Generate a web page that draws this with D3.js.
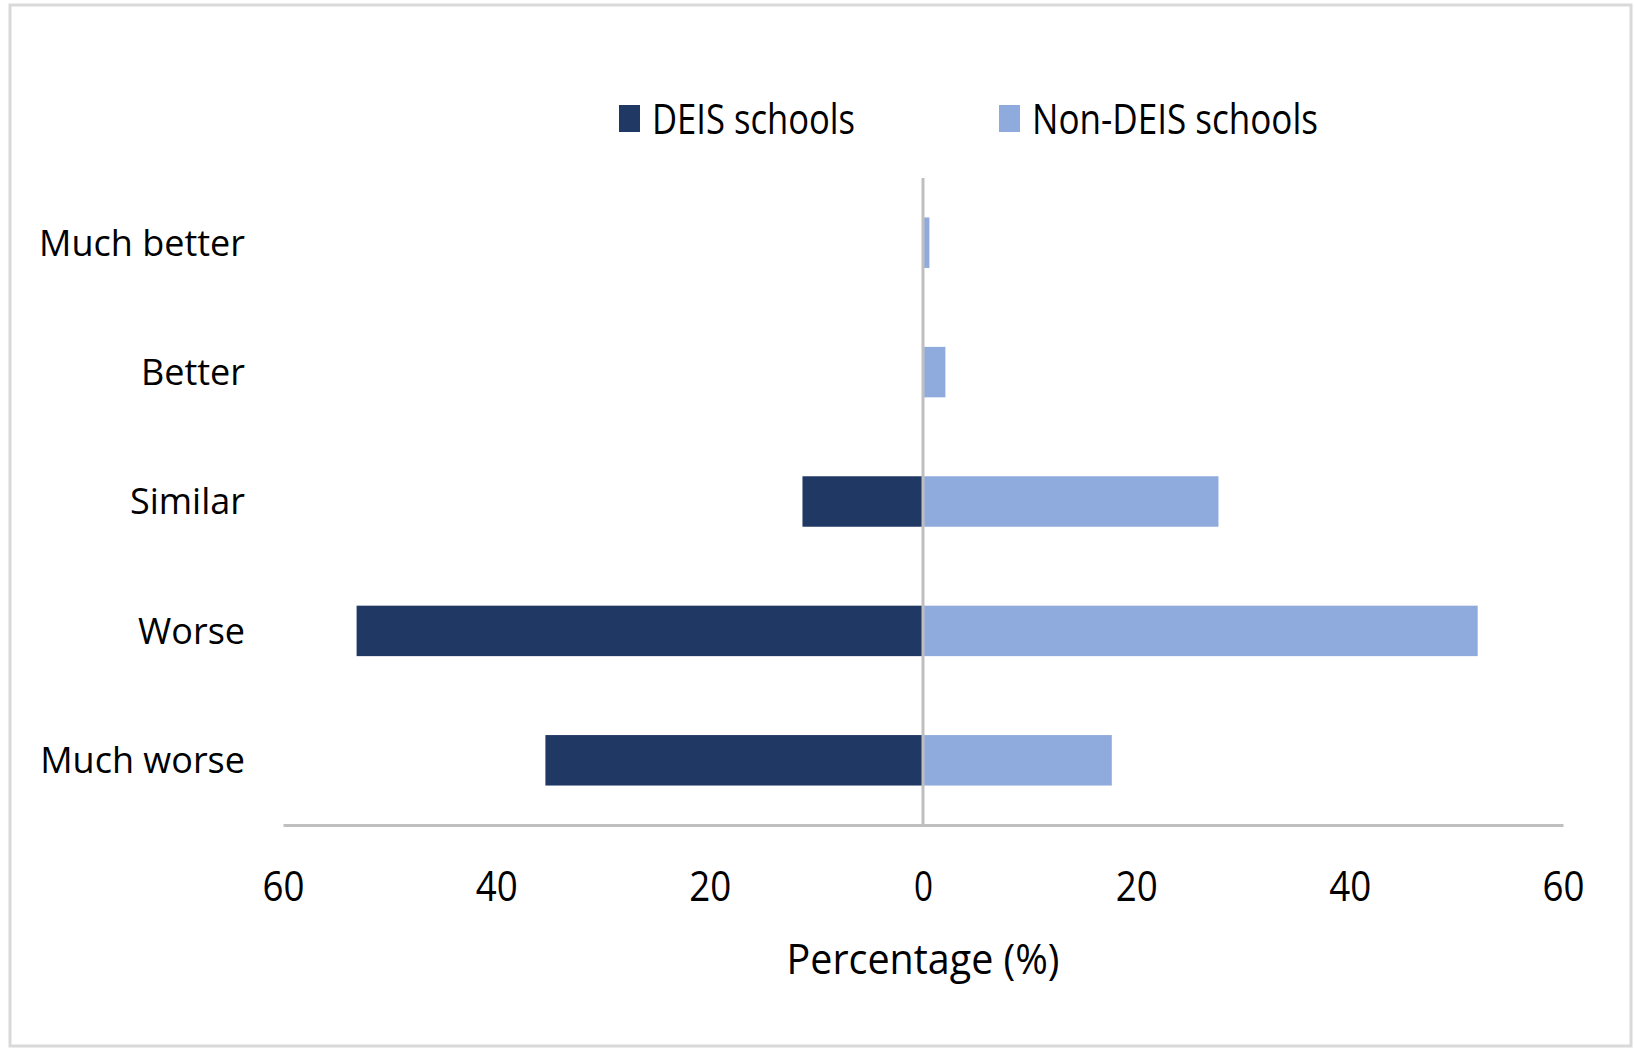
<!DOCTYPE html>
<html><head><meta charset="utf-8">
<script src="https://cdn.jsdelivr.net/npm/d3@7"></script>
<style>html,body{margin:0;padding:0;background:#fff}svg{display:block}text{font-family:"Open Sans",sans-serif;fill:#000}</style>
</head><body>
<script>
const categories = ["Much better", "Better", "Similar", "Worse", "Much worse"];
const deisValues = [0, 0, 11.3, 53.1, 35.4];
const nonDeisValues = [0.6, 2.1, 27.7, 52.0, 17.7];
const seriesNames = ["DEIS schools", "Non-DEIS schools"];
const seriesColors = ["#203864", "#8FAADC"];
const tickValues = [-60, -40, -20, 0, 20, 40, 60];

const W = 1634, H = 1049;
const svg = d3.select("body").append("svg").attr("width", W).attr("height", H);

svg.append("rect").attr("x", 10).attr("y", 5).attr("width", 1621).attr("height", 1041)
  .attr("fill", "#fff").attr("stroke", "#d9d9d9").attr("stroke-width", 3);

const x = d3.scaleLinear().domain([-60, 60]).range([283, 1563]);
const y = d3.scaleBand().domain(categories).range([178, 825]).paddingInner(0.61).paddingOuter(0.305);

// bars
svg.append("g").selectAll("rect").data(categories.map((c, i) => ({c, v: deisValues[i]})))
  .join("rect")
  .attr("x", d => x(-d.v)).attr("y", d => y(d.c))
  .attr("width", d => x(0) - x(-d.v)).attr("height", y.bandwidth())
  .attr("fill", seriesColors[0]);
svg.append("g").selectAll("rect").data(categories.map((c, i) => ({c, v: nonDeisValues[i]})))
  .join("rect")
  .attr("x", x(0)).attr("y", d => y(d.c))
  .attr("width", d => x(d.v) - x(0)).attr("height", y.bandwidth())
  .attr("fill", seriesColors[1]);

// zero line
svg.append("line").attr("x1", x(0)).attr("x2", x(0)).attr("y1", 178).attr("y2", 825)
  .attr("stroke", "#bfbfbf").attr("stroke-width", 3);

// x axis
const xAxis = d3.axisBottom(x).tickValues(tickValues).tickSize(0).tickFormat(d => Math.abs(d));
const gx = svg.append("g").attr("transform", "translate(0,825)").call(xAxis);
gx.select(".domain").attr("stroke", "#bfbfbf").attr("stroke-width", 3);
gx.selectAll(".tick text")
  .attr("y", 61).attr("dy", "0.36em")
  .style("font-size", "42px").style("font-family", "'Open Sans',sans-serif").attr("fill", "#000")
  .attr("textLength", d => d === 0 ? 19 : 42).attr("lengthAdjust", "spacingAndGlyphs");

// y labels
svg.append("g").selectAll("text").data(categories).join("text")
  .attr("x", 245).attr("y", d => y(d) + y.bandwidth() / 2).attr("dy", "0.36em")
  .attr("text-anchor", "end").style("font-size", "36px").text(d => d);

// axis title
svg.append("text").attr("x", 923).attr("y", 959).attr("dy", "0.36em").attr("text-anchor", "middle")
  .style("font-size", "42px").attr("textLength", 273).attr("lengthAdjust", "spacingAndGlyphs")
  .text("Percentage (%)");

// legend
const legendX = [619, 999];
const legendW = [203, 286];
const lg = svg.append("g").selectAll("g").data(seriesNames).join("g")
  .attr("transform", (d, i) => `translate(${legendX[i]},0)`);
lg.append("rect").attr("x", 0).attr("y", 105).attr("width", 21).attr("height", 27)
  .attr("fill", (d, i) => seriesColors[i]);
lg.append("text").attr("x", 33).attr("y", 119).attr("dy", "0.36em")
  .style("font-size", "42px").attr("textLength", (d, i) => legendW[i]).attr("lengthAdjust", "spacingAndGlyphs")
  .text(d => d);
</script>
</body></html>
